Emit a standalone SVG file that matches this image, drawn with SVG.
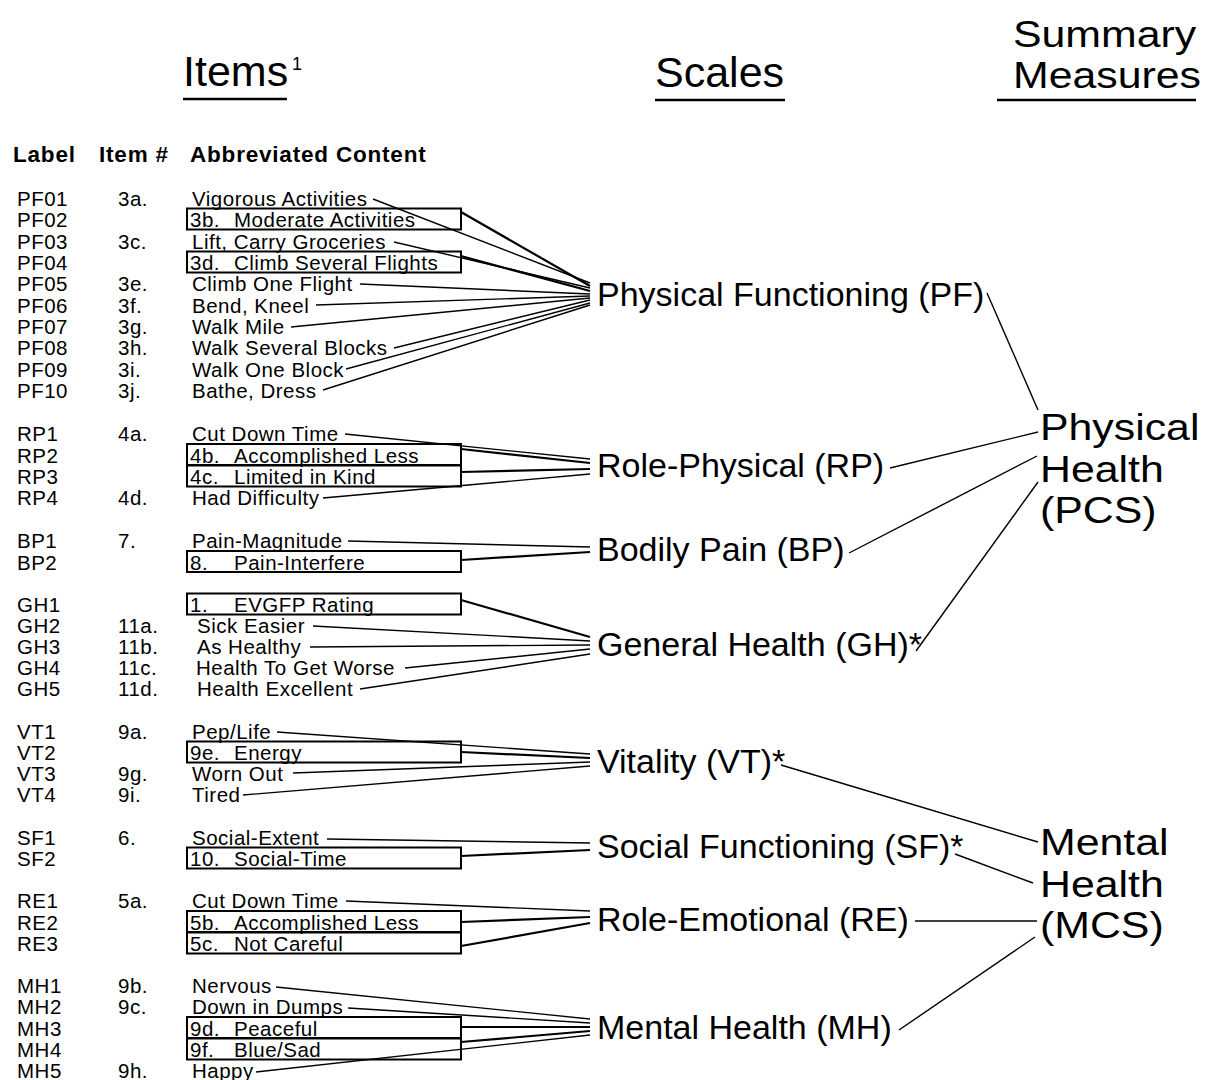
<svg xmlns="http://www.w3.org/2000/svg" width="1207" height="1080" viewBox="0 0 1207 1080">
<style>
text{font-family:"Liberation Sans",Arial,sans-serif;fill:#000}
.hd{font-size:43px}
.hs{font-size:36px}
.sup{font-size:18px}
.ch{font-size:22.5px;font-weight:bold;letter-spacing:0.8px}
.it{font-size:20.5px;letter-spacing:0.5px}
.sc{font-size:34px}
.sm{font-size:36px}
.box{fill:none;stroke:#000;stroke-width:2}
.ul{stroke:#000;stroke-width:2.5}
#connectors line{stroke:#000;stroke-width:1.4;fill:none}
#connectors line.t{stroke-width:2.2}
</style>
<rect width="1207" height="1080" fill="#fff"/>

<g id="header-items"><text class="hd" x="183" y="86">Items</text><text class="sup" x="292" y="70">1</text><line class="ul" x1="183" y1="99" x2="287" y2="99"/></g>
<g id="header-scales"><text class="hd" x="655" y="87">Scales</text><line class="ul" x1="655" y1="100" x2="785" y2="100"/></g>
<g id="header-summary"><g transform="translate(1013,0) scale(1.19,1)"><text class="hs" x="0" y="47">Summary</text><text class="hs" x="0" y="88">Measures</text></g><line class="ul" x1="997" y1="100" x2="1196" y2="100"/></g>
<g id="column-headers"><text class="ch" x="13" y="162">Label</text><text class="ch" x="99" y="162">Item #</text><text class="ch" x="190" y="162">Abbreviated Content</text></g>

<g id="items">
<g id="PF01"><text class="it" x="17" y="206">PF01</text><text class="it" x="118" y="206">3a.</text><text class="it" x="192" y="206">Vigorous Activities</text></g>
<g id="PF02"><text class="it" x="17" y="227">PF02</text><rect class="box" x="187" y="208.5" width="274" height="21"/><text class="it" x="190" y="227">3b.</text><text class="it" x="234" y="227">Moderate Activities</text></g>
<g id="PF03"><text class="it" x="17" y="248.5">PF03</text><text class="it" x="118" y="248.5">3c.</text><text class="it" x="192" y="248.5">Lift, Carry Groceries</text></g>
<g id="PF04"><text class="it" x="17" y="270">PF04</text><rect class="box" x="187" y="251.5" width="274" height="21"/><text class="it" x="190" y="270">3d.</text><text class="it" x="234" y="270">Climb Several Flights</text></g>
<g id="PF05"><text class="it" x="17" y="291">PF05</text><text class="it" x="118" y="291">3e.</text><text class="it" x="192" y="291">Climb One Flight</text></g>
<g id="PF06"><text class="it" x="17" y="312.5">PF06</text><text class="it" x="118" y="312.5">3f.</text><text class="it" x="192" y="312.5">Bend, Kneel</text></g>
<g id="PF07"><text class="it" x="17" y="334">PF07</text><text class="it" x="118" y="334">3g.</text><text class="it" x="192" y="334">Walk Mile</text></g>
<g id="PF08"><text class="it" x="17" y="355">PF08</text><text class="it" x="118" y="355">3h.</text><text class="it" x="192" y="355">Walk Several Blocks</text></g>
<g id="PF09"><text class="it" x="17" y="376.5">PF09</text><text class="it" x="118" y="376.5">3i.</text><text class="it" x="192" y="376.5">Walk One Block</text></g>
<g id="PF10"><text class="it" x="17" y="397.5">PF10</text><text class="it" x="118" y="397.5">3j.</text><text class="it" x="192" y="397.5">Bathe, Dress</text></g>

<g id="RP1"><text class="it" x="17" y="441">RP1</text><text class="it" x="118" y="441">4a.</text><text class="it" x="192" y="441">Cut Down Time</text></g>
<g id="RP2"><text class="it" x="17" y="462.5">RP2</text><rect class="box" x="187" y="444" width="274" height="21"/><text class="it" x="190" y="462.5">4b.</text><text class="it" x="234" y="462.5">Accomplished Less</text></g>
<g id="RP3"><text class="it" x="17" y="484">RP3</text><rect class="box" x="187" y="465.5" width="274" height="21"/><text class="it" x="190" y="484">4c.</text><text class="it" x="234" y="484">Limited in Kind</text></g>
<g id="RP4"><text class="it" x="17" y="505">RP4</text><text class="it" x="118" y="505">4d.</text><text class="it" x="192" y="505">Had Difficulty</text></g>

<g id="BP1"><text class="it" x="17" y="548">BP1</text><text class="it" x="118" y="548">7.</text><text class="it" x="192" y="548">Pain-Magnitude</text></g>
<g id="BP2"><text class="it" x="17" y="569.5">BP2</text><rect class="box" x="187" y="551" width="274" height="21"/><text class="it" x="190" y="569.5">8.</text><text class="it" x="234" y="569.5">Pain-Interfere</text></g>

<g id="GH1"><text class="it" x="17" y="612">GH1</text><rect class="box" x="187" y="593.5" width="274" height="21"/><text class="it" x="190" y="612">1.</text><text class="it" x="234" y="612">EVGFP Rating</text></g>
<g id="GH2"><text class="it" x="17" y="633">GH2</text><text class="it" x="118" y="633">11a.</text><text class="it" x="197" y="633">Sick Easier</text></g>
<g id="GH3"><text class="it" x="17" y="654">GH3</text><text class="it" x="118" y="654">11b.</text><text class="it" x="197" y="654">As Healthy</text></g>
<g id="GH4"><text class="it" x="17" y="675">GH4</text><text class="it" x="118" y="675">11c.</text><text class="it" x="196" y="675">Health To Get Worse</text></g>
<g id="GH5"><text class="it" x="17" y="696">GH5</text><text class="it" x="118" y="696">11d.</text><text class="it" x="197" y="696">Health Excellent</text></g>

<g id="VT1"><text class="it" x="17" y="739">VT1</text><text class="it" x="118" y="739">9a.</text><text class="it" x="192" y="739">Pep/Life</text></g>
<g id="VT2"><text class="it" x="17" y="760">VT2</text><rect class="box" x="187" y="741.5" width="274" height="21"/><text class="it" x="190" y="760">9e.</text><text class="it" x="234" y="760">Energy</text></g>
<g id="VT3"><text class="it" x="17" y="781">VT3</text><text class="it" x="118" y="781">9g.</text><text class="it" x="192" y="781">Worn Out</text></g>
<g id="VT4"><text class="it" x="17" y="802">VT4</text><text class="it" x="118" y="802">9i.</text><text class="it" x="192" y="802">Tired</text></g>

<g id="SF1"><text class="it" x="17" y="845">SF1</text><text class="it" x="118" y="845">6.</text><text class="it" x="192" y="845">Social-Extent</text></g>
<g id="SF2"><text class="it" x="17" y="866">SF2</text><rect class="box" x="187" y="847.5" width="274" height="21"/><text class="it" x="190" y="866">10.</text><text class="it" x="234" y="866">Social-Time</text></g>

<g id="RE1"><text class="it" x="17" y="908">RE1</text><text class="it" x="118" y="908">5a.</text><text class="it" x="192" y="908">Cut Down Time</text></g>
<g id="RE2"><text class="it" x="17" y="929.5">RE2</text><rect class="box" x="187" y="911" width="274" height="21"/><text class="it" x="190" y="929.5">5b.</text><text class="it" x="234" y="929.5">Accomplished Less</text></g>
<g id="RE3"><text class="it" x="17" y="951">RE3</text><rect class="box" x="187" y="932.5" width="274" height="21"/><text class="it" x="190" y="951">5c.</text><text class="it" x="234" y="951">Not Careful</text></g>

<g id="MH1"><text class="it" x="17" y="993">MH1</text><text class="it" x="118" y="993">9b.</text><text class="it" x="192" y="993">Nervous</text></g>
<g id="MH2"><text class="it" x="17" y="1014">MH2</text><text class="it" x="118" y="1014">9c.</text><text class="it" x="192" y="1014">Down in Dumps</text></g>
<g id="MH3"><text class="it" x="17" y="1035.5">MH3</text><rect class="box" x="187" y="1017" width="274" height="21"/><text class="it" x="190" y="1035.5">9d.</text><text class="it" x="234" y="1035.5">Peaceful</text></g>
<g id="MH4"><text class="it" x="17" y="1057">MH4</text><rect class="box" x="187" y="1038.5" width="274" height="21"/><text class="it" x="190" y="1057">9f.</text><text class="it" x="234" y="1057">Blue/Sad</text></g>
<g id="MH5"><text class="it" x="17" y="1078">MH5</text><text class="it" x="118" y="1078">9h.</text><text class="it" x="192" y="1078">Happy</text></g>
</g>

<g id="scales">
<g id="scale-PF"><text class="sc" x="597" y="306">Physical Functioning (PF)</text></g>
<g id="scale-RP"><text class="sc" x="597" y="477">Role-Physical (RP)</text></g>
<g id="scale-BP"><text class="sc" x="597" y="561">Bodily Pain (BP)</text></g>
<g id="scale-GH"><text class="sc" x="597" y="656">General Health (GH)*</text></g>
<g id="scale-VT"><text class="sc" x="597" y="773">Vitality (VT)*</text></g>
<g id="scale-SF"><text class="sc" x="597" y="858">Social Functioning (SF)*</text></g>
<g id="scale-RE"><text class="sc" x="597" y="931">Role-Emotional (RE)</text></g>
<g id="scale-MH"><text class="sc" x="597" y="1039">Mental Health (MH)</text></g>
</g>

<g id="summary">
<g id="PCS" transform="translate(1040,0) scale(1.19,1)"><text class="sm" x="0" y="440">Physical</text><text class="sm" x="0" y="482">Health</text><text class="sm" x="0" y="523">(PCS)</text></g>
<g id="MCS" transform="translate(1040,0) scale(1.19,1)"><text class="sm" x="0" y="855">Mental</text><text class="sm" x="0" y="897">Health</text><text class="sm" x="0" y="938">(MCS)</text></g>
</g>

<g id="connectors">
<line x1="373" y1="199" x2="590" y2="283"/>
<line class="t" x1="461" y1="212" x2="590" y2="286"/>
<line x1="394" y1="242" x2="590" y2="288"/>
<line class="t" x1="461" y1="256" x2="590" y2="291"/>
<line x1="360" y1="284" x2="590" y2="294"/>
<line x1="316" y1="305" x2="590" y2="296"/>
<line x1="291" y1="327" x2="590" y2="298"/>
<line x1="394" y1="348" x2="590" y2="300"/>
<line x1="346" y1="369" x2="590" y2="303"/>
<line x1="323" y1="390" x2="590" y2="305"/>

<line x1="345" y1="434" x2="590" y2="459"/>
<line class="t" x1="461" y1="449" x2="590" y2="463"/>
<line class="t" x1="461" y1="472" x2="590" y2="469"/>
<line x1="323" y1="498" x2="590" y2="474"/>

<line x1="348" y1="541" x2="590" y2="547"/>
<line class="t" x1="461" y1="560" x2="590" y2="552"/>

<line class="t" x1="461" y1="600" x2="590" y2="637"/>
<line x1="313" y1="626" x2="590" y2="641"/>
<line x1="310" y1="647" x2="590" y2="645"/>
<line x1="405" y1="668" x2="590" y2="649"/>
<line x1="360" y1="689" x2="590" y2="654"/>

<line x1="277" y1="732" x2="590" y2="754"/>
<line class="t" x1="461" y1="752" x2="590" y2="758"/>
<line x1="293" y1="773" x2="590" y2="762"/>
<line x1="243" y1="795" x2="590" y2="766"/>

<line x1="327" y1="839" x2="590" y2="843"/>
<line class="t" x1="461" y1="856" x2="590" y2="850"/>

<line x1="346" y1="901" x2="590" y2="911"/>
<line class="t" x1="461" y1="922" x2="590" y2="917"/>
<line class="t" x1="461" y1="946" x2="590" y2="923"/>

<line x1="276" y1="987" x2="590" y2="1019"/>
<line x1="348" y1="1008" x2="590" y2="1023"/>
<line class="t" x1="461" y1="1027" x2="590" y2="1027"/>
<line class="t" x1="461" y1="1042" x2="590" y2="1031"/>
<line x1="256" y1="1072" x2="590" y2="1035"/>

<line x1="987" y1="293" x2="1038" y2="410"/>
<line x1="890" y1="468" x2="1038" y2="432"/>
<line x1="849" y1="553" x2="1037" y2="456"/>
<line x1="916" y1="651" x2="1038" y2="482"/>
<line x1="781" y1="765" x2="1038" y2="842"/>
<line x1="955" y1="854" x2="1033" y2="883"/>
<line x1="915" y1="921" x2="1037" y2="921"/>
<line x1="899" y1="1030" x2="1035" y2="937"/>
</g>
</svg>
